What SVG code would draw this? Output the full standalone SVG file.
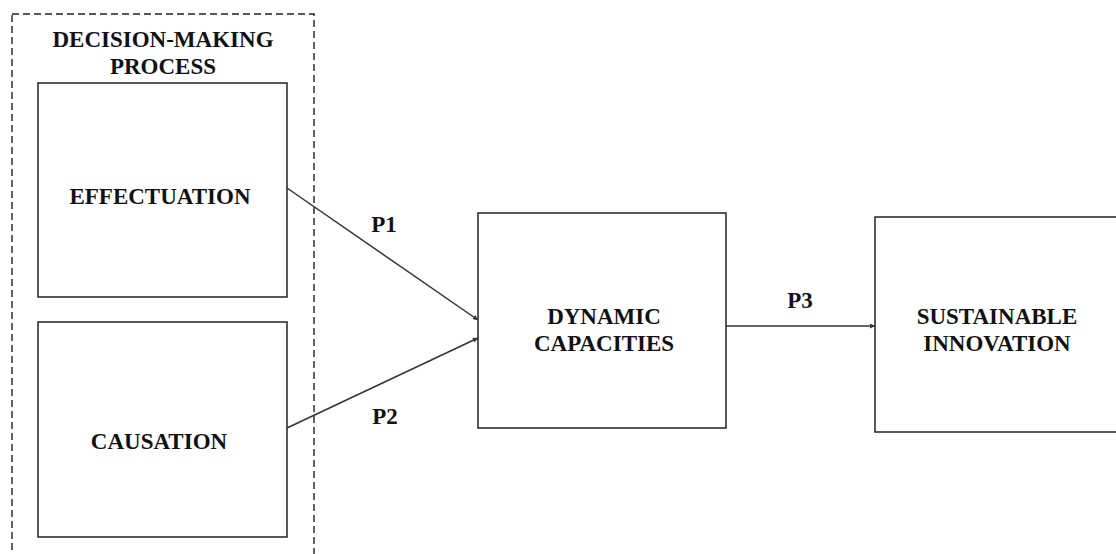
<svg xmlns="http://www.w3.org/2000/svg" width="1116" height="554" viewBox="0 0 1116 554">
<style>
.box{fill:#fff;stroke:#222;stroke-width:1.5}
.grp{fill:none;stroke:#222;stroke-width:1.4;stroke-dasharray:7 4}
.t{font-family:"Liberation Serif","Times New Roman",serif;font-weight:bold;font-size:23px;fill:#111;text-anchor:middle}
.c{stroke:#333;stroke-width:1.5;fill:none;marker-end:url(#ah)}
</style>
<defs>
<marker id="ah" viewBox="0 0 10 10" refX="10" refY="5" markerWidth="6" markerHeight="5" markerUnits="userSpaceOnUse" orient="auto">
<path d="M0,0 L10,5 L0,10 z" fill="#333"/>
</marker>
</defs>
<rect width="1116" height="554" fill="#fff"/>
<g id="decision-making-process">
<rect class="grp" x="12" y="14" width="302" height="560"/>
<text class="t" x="163" y="47">DECISION-MAKING</text>
<text class="t" x="163" y="74">PROCESS</text>
</g>
<g id="effectuation">
<rect class="box" x="38" y="83" width="249" height="214"/>
<text class="t" x="160" y="204">EFFECTUATION</text>
</g>
<g id="causation">
<rect class="box" x="38" y="322" width="249" height="215"/>
<text class="t" x="159" y="449">CAUSATION</text>
</g>
<g id="dynamic-capacities">
<rect class="box" x="478" y="213" width="248" height="215"/>
<text class="t" x="604" y="324">DYNAMIC</text>
<text class="t" x="604" y="351">CAPACITIES</text>
</g>
<g id="sustainable-innovation">
<rect class="box" x="875" y="217" width="260" height="215"/>
<text class="t" x="997" y="324">SUSTAINABLE</text>
<text class="t" x="997" y="351">INNOVATION</text>
</g>
<g id="connectors">
<line class="c" x1="287" y1="188" x2="478" y2="320"/>
<line class="c" x1="287" y1="428" x2="478" y2="338"/>
<line class="c" x1="726" y1="326" x2="875" y2="326"/>
<text class="t" x="384" y="232">P1</text>
<text class="t" x="385" y="424">P2</text>
<text class="t" x="800" y="308">P3</text>
</g>
</svg>
